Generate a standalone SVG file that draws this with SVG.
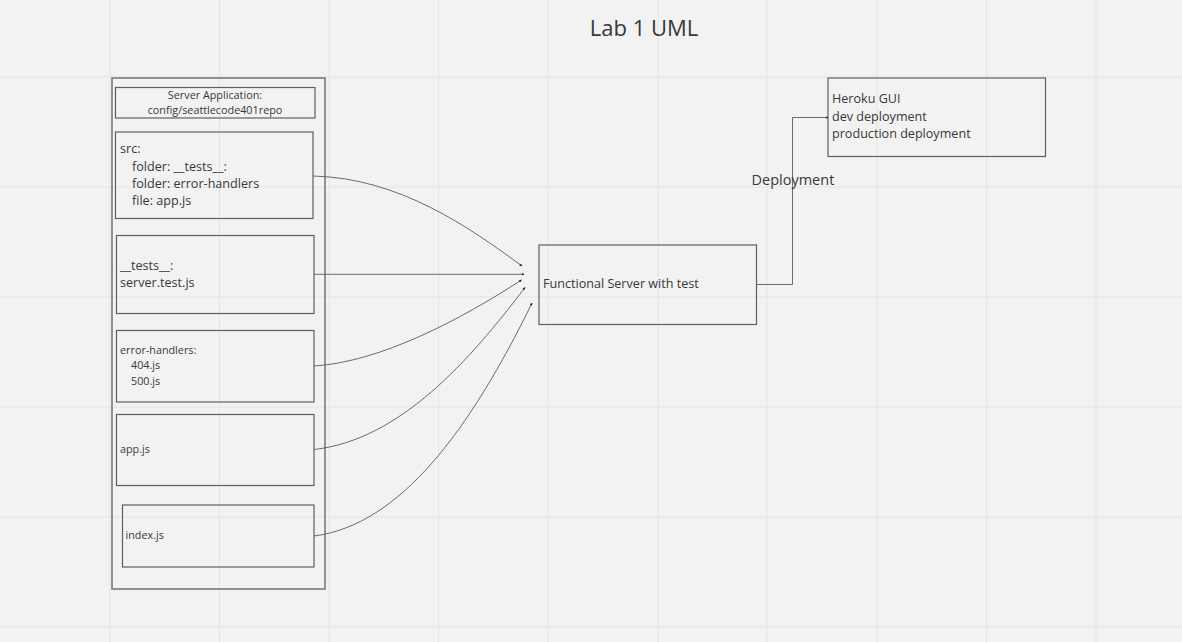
<svg xmlns="http://www.w3.org/2000/svg" width="1182" height="642" viewBox="0 0 1182 642">
<style>
.bg{fill:#f2f2f2}
.grid line{stroke:#e4e4e4;stroke-width:1}
.box{fill:none;stroke:#5f5f5f;stroke-width:1.2}
.outer{fill:none;stroke:#7a7a7a;stroke-width:1.6}
.t{font-family:"Open Sans","Noto Sans","DejaVu Sans",sans-serif;fill:#383838}
.s11{font-size:10.8px}
.s13{font-size:12.6px}
.con{fill:none;stroke:#5a5a5a;stroke-width:0.9}
</style>
<defs>
<marker id="ah" viewBox="0 0 6 6" refX="5" refY="3" markerWidth="3" markerHeight="3" orient="auto" markerUnits="userSpaceOnUse">
<path d="M0,0 L6,3 L0,6 z" fill="#333"/>
</marker>
</defs>
<rect class="bg" x="0" y="0" width="1182" height="642"/>
<g class="grid">
<line x1="110" y1="0" x2="110" y2="642"/>
<line x1="219.5" y1="0" x2="219.5" y2="642"/>
<line x1="329" y1="0" x2="329" y2="642"/>
<line x1="438.5" y1="0" x2="438.5" y2="642"/>
<line x1="548" y1="0" x2="548" y2="642"/>
<line x1="658" y1="0" x2="658" y2="642"/>
<line x1="767" y1="0" x2="767" y2="642"/>
<line x1="877" y1="0" x2="877" y2="642"/>
<line x1="986.5" y1="0" x2="986.5" y2="642"/>
<line x1="1096" y1="0" x2="1096" y2="642"/>
<line x1="0" y1="77" x2="1182" y2="77"/>
<line x1="0" y1="187" x2="1182" y2="187"/>
<line x1="0" y1="297" x2="1182" y2="297"/>
<line x1="0" y1="407" x2="1182" y2="407"/>
<line x1="0" y1="517" x2="1182" y2="517"/>
<line x1="0" y1="627" x2="1182" y2="627"/>
</g>
<text class="t" x="644" y="36" font-size="22" text-anchor="middle">Lab 1 UML</text>
<g id="server-application">
<rect class="outer" x="112" y="78" width="213" height="511"/>
</g>
<g id="title-box">
<rect class="box" x="115.5" y="87.5" width="199.5" height="30.5"/>
<text class="t s11" x="215" y="99" text-anchor="middle">Server Application:</text>
<text class="t s11" x="215" y="114" text-anchor="middle">config/seattlecode401repo</text>
</g>
<g id="src">
<rect class="box" x="115.5" y="132" width="197.5" height="86.5"/>
<text class="t s13" x="120" y="153">src:</text>
<text class="t s13" x="132" y="171">folder: __tests__:</text>
<text class="t s13" x="132" y="188">folder: error-handlers</text>
<text class="t s13" x="132" y="205">file: app.js</text>
</g>
<g id="tests">
<rect class="box" x="116.5" y="235.5" width="197.5" height="78"/>
<text class="t s13" x="120" y="270">__tests__:</text>
<text class="t s13" x="120" y="287">server.test.js</text>
</g>
<g id="error-handlers">
<rect class="box" x="116.5" y="330.5" width="197.5" height="71.5"/>
<text class="t s11" x="120" y="354">error-handlers:</text>
<text class="t s11" x="131" y="369">404.js</text>
<text class="t s11" x="131" y="385">500.js</text>
</g>
<g id="app-js">
<rect class="box" x="116.5" y="414.5" width="197.5" height="71"/>
<text class="t s11" x="120" y="453">app.js</text>
</g>
<g id="index-js">
<rect class="box" x="122.5" y="505" width="191.5" height="62"/>
<text class="t s11" x="125.5" y="539">index.js</text>
</g>
<g id="functional-server">
<rect class="box" x="539" y="245" width="217.5" height="79.5"/>
<text class="t s13" x="543" y="288">Functional Server with test</text>
</g>
<g id="heroku">
<rect class="box" x="828" y="78" width="217.5" height="78.5"/>
<text class="t s13" x="832" y="103">Heroku GUI</text>
<text class="t s13" x="832" y="121">dev deployment</text>
<text class="t s13" x="832" y="138">production deployment</text>
</g>
<g id="connectors">
<path class="con" marker-end="url(#ah)" d="M313,176 C400,178 470,228 522,266"/>
<path class="con" marker-end="url(#ah)" d="M314,274.3 L524,274.3"/>
<path class="con" marker-end="url(#ah)" d="M314,366 C380,362 460,320 521.5,280"/>
<path class="con" marker-end="url(#ah)" d="M314,449.5 C400,440 470,360 525,287.5"/>
<path class="con" marker-end="url(#ah)" d="M314,536 C400,525 470,430 532,303"/>
<path class="con" marker-end="url(#ah)" d="M757,284.5 L792.5,284.5 L792.5,117.5 L828,117.5"/>
<text class="t" x="751.5" y="185" font-size="14.5">Deployment</text>
</g>
</svg>
